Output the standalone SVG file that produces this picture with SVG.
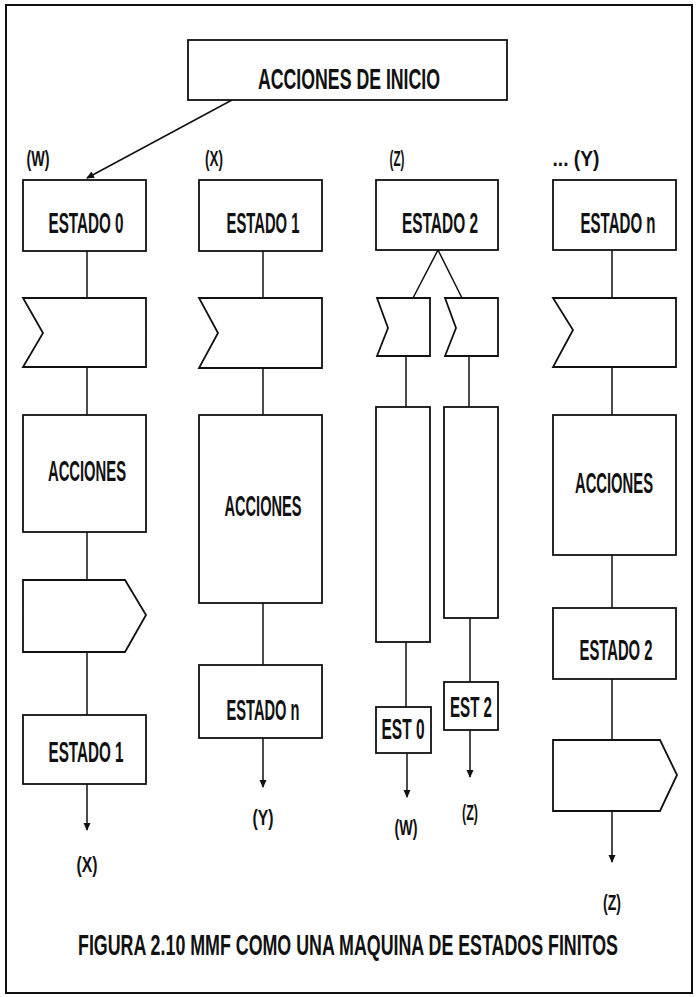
<svg xmlns="http://www.w3.org/2000/svg" width="697" height="997" viewBox="0 0 697 997">
<style>
.b{fill:#fff;stroke:#111;stroke-width:1.8}
.l{fill:none;stroke:#111;stroke-width:1.5}
.t{font-family:"Liberation Sans",Arial,sans-serif;font-size:29px;font-weight:bold;fill:#111;text-anchor:middle}
.s{font-family:"Liberation Sans",Arial,sans-serif;font-size:22px;font-weight:bold;fill:#111;text-anchor:middle}
</style>
<defs>
<marker id="ah" markerUnits="userSpaceOnUse" markerWidth="8" markerHeight="12" refX="7" refY="3.5" orient="auto">
<path d="M0,0 L8,3.5 L0,7 Z" fill="#111"/>
</marker>
</defs>
<rect width="697" height="997" fill="#fff"/>
<rect x="6" y="5" width="686" height="988" fill="none" stroke="#111" stroke-width="2"/>

<g id="connectors">
<line class="l" x1="232" y1="100" x2="87" y2="178" marker-end="url(#ah)"/>
<line class="l" x1="87" y1="251" x2="87" y2="298"/>
<line class="l" x1="87" y1="367" x2="87" y2="415"/>
<line class="l" x1="87" y1="532" x2="87" y2="580"/>
<line class="l" x1="87" y1="652" x2="87" y2="715"/>
<line class="l" x1="87" y1="784" x2="87" y2="830" marker-end="url(#ah)"/>
<line class="l" x1="263" y1="251" x2="263" y2="298"/>
<line class="l" x1="263" y1="368" x2="263" y2="415"/>
<line class="l" x1="263" y1="603" x2="263" y2="665"/>
<line class="l" x1="263" y1="738" x2="263" y2="787" marker-end="url(#ah)"/>
<polyline class="l" points="413,298 438,250 462,298"/>
<line class="l" x1="406" y1="356" x2="406" y2="407"/>
<line class="l" x1="469" y1="356" x2="469" y2="407"/>
<line class="l" x1="406" y1="642" x2="406" y2="707"/>
<line class="l" x1="470" y1="618" x2="470" y2="682"/>
<line class="l" x1="407" y1="753" x2="407" y2="797" marker-end="url(#ah)"/>
<line class="l" x1="470" y1="730" x2="470" y2="777" marker-end="url(#ah)"/>
<line class="l" x1="612" y1="250" x2="612" y2="298"/>
<line class="l" x1="612" y1="367" x2="612" y2="415"/>
<line class="l" x1="612" y1="555" x2="612" y2="608"/>
<line class="l" x1="612" y1="679" x2="612" y2="740"/>
<line class="l" x1="612" y1="811" x2="612" y2="862" marker-end="url(#ah)"/>
</g>

<g id="inicio">
<rect class="b" x="188" y="40" width="319" height="60"/>
<text class="t" transform="translate(349,89) scale(0.5,1)" x="0" y="0" font-size="34" font-weight="normal" textLength="364" lengthAdjust="spacingAndGlyphs">ACCIONES  DE  INICIO</text>
</g>

<g id="labels-top">
<text class="s" transform="translate(38,166) scale(0.5,1)" x="0" y="0" textLength="46" lengthAdjust="spacingAndGlyphs">(W)</text>
<text class="s" transform="translate(214,166) scale(0.5,1)" x="0" y="0" textLength="36" lengthAdjust="spacingAndGlyphs">(X)</text>
<text class="s" transform="translate(397,166) scale(0.5,1)" x="0" y="0" textLength="30" lengthAdjust="spacingAndGlyphs">(Z)</text>
<text class="s" transform="translate(576,166) scale(0.5,1)" x="0" y="0" textLength="94" lengthAdjust="spacingAndGlyphs">... (Y)</text>
</g>

<g id="estado0">
<rect class="b" x="23" y="180" width="123" height="71"/>
<text class="t" transform="translate(86,233) scale(0.5,1)" x="0" y="0" textLength="150" lengthAdjust="spacingAndGlyphs">ESTADO 0</text>
</g>
<g id="entrada0">
<polygon class="b" points="23,298 146,298 146,367 23,367 43,333"/>
</g>
<g id="acciones0">
<rect class="b" x="23" y="415" width="123" height="117"/>
<text class="t" transform="translate(87,481) scale(0.5,1)" x="0" y="0" textLength="156" lengthAdjust="spacingAndGlyphs">ACCIONES</text>
</g>
<g id="salida0">
<polygon class="b" points="23,580 125,580 146,615 125,652 23,652"/>
</g>
<g id="estado1-dest">
<rect class="b" x="23" y="715" width="123" height="69"/>
<text class="t" transform="translate(86,762) scale(0.5,1)" x="0" y="0" textLength="150" lengthAdjust="spacingAndGlyphs">ESTADO 1</text>
</g>
<text class="s" transform="translate(87,872) scale(0.5,1)" x="0" y="0" textLength="42" lengthAdjust="spacingAndGlyphs">(X)</text>

<g id="estado1">
<rect class="b" x="199" y="180" width="123" height="71"/>
<text class="t" transform="translate(263,233) scale(0.5,1)" x="0" y="0" textLength="146" lengthAdjust="spacingAndGlyphs">ESTADO 1</text>
</g>
<g id="entrada1">
<polygon class="b" points="199,298 322,298 322,368 199,368 218,333"/>
</g>
<g id="acciones1">
<rect class="b" x="199" y="415" width="123" height="188"/>
<text class="t" transform="translate(263,516) scale(0.5,1)" x="0" y="0" textLength="154" lengthAdjust="spacingAndGlyphs">ACCIONES</text>
</g>
<g id="estadon-dest">
<rect class="b" x="199" y="665" width="123" height="73"/>
<text class="t" transform="translate(263,720) scale(0.5,1)" x="0" y="0" textLength="146" lengthAdjust="spacingAndGlyphs">ESTADO n</text>
</g>
<text class="s" transform="translate(263,825) scale(0.5,1)" x="0" y="0" textLength="42" lengthAdjust="spacingAndGlyphs">(Y)</text>

<g id="estado2">
<rect class="b" x="376" y="180" width="122" height="70"/>
<text class="t" transform="translate(440,233) scale(0.5,1)" x="0" y="0" textLength="152" lengthAdjust="spacingAndGlyphs">ESTADO 2</text>
</g>
<g id="entrada2a">
<polygon class="b" points="377,298 430,298 430,356 377,356 388,328"/>
</g>
<g id="entrada2b">
<polygon class="b" points="445,298 498,298 498,356 445,356 456,328"/>
</g>
<g id="acciones2a">
<rect class="b" x="376" y="407" width="54" height="235"/>
</g>
<g id="acciones2b">
<rect class="b" x="444" y="407" width="54" height="211"/>
</g>
<g id="est0">
<rect class="b" x="376" y="707" width="55" height="46"/>
<text class="t" transform="translate(403,739) scale(0.5,1)" x="0" y="0" textLength="86" lengthAdjust="spacingAndGlyphs">EST 0</text>
</g>
<g id="est2">
<rect class="b" x="444" y="682" width="54" height="48"/>
<text class="t" transform="translate(471,717) scale(0.5,1)" x="0" y="0" textLength="84" lengthAdjust="spacingAndGlyphs">EST 2</text>
</g>
<text class="s" transform="translate(406,835) scale(0.5,1)" x="0" y="0" textLength="46" lengthAdjust="spacingAndGlyphs">(W)</text>
<text class="s" transform="translate(470,820) scale(0.5,1)" x="0" y="0" textLength="32" lengthAdjust="spacingAndGlyphs">(Z)</text>

<g id="estadon">
<rect class="b" x="553" y="180" width="123" height="70"/>
<text class="t" transform="translate(618,233) scale(0.5,1)" x="0" y="0" textLength="150" lengthAdjust="spacingAndGlyphs">ESTADO n</text>
</g>
<g id="entradan">
<polygon class="b" points="553,298 676,298 676,367 553,367 573,330"/>
</g>
<g id="accionesn">
<rect class="b" x="553" y="415" width="123" height="140"/>
<text class="t" transform="translate(614,493) scale(0.5,1)" x="0" y="0" textLength="156" lengthAdjust="spacingAndGlyphs">ACCIONES</text>
</g>
<g id="estado2-dest">
<rect class="b" x="553" y="608" width="123" height="71"/>
<text class="t" transform="translate(616,660) scale(0.5,1)" x="0" y="0" textLength="146" lengthAdjust="spacingAndGlyphs">ESTADO 2</text>
</g>
<g id="salidan">
<polygon class="b" points="553,740 660,740 677,775 660,811 553,811"/>
</g>
<text class="s" transform="translate(612,910) scale(0.5,1)" x="0" y="0" textLength="36" lengthAdjust="spacingAndGlyphs">(Z)</text>

<text class="t" transform="translate(348,955) scale(0.5,1)" x="0" y="0" font-size="30" textLength="1080" lengthAdjust="spacingAndGlyphs">FIGURA 2.10 MMF COMO UNA MAQUINA DE ESTADOS FINITOS</text>
</svg>
